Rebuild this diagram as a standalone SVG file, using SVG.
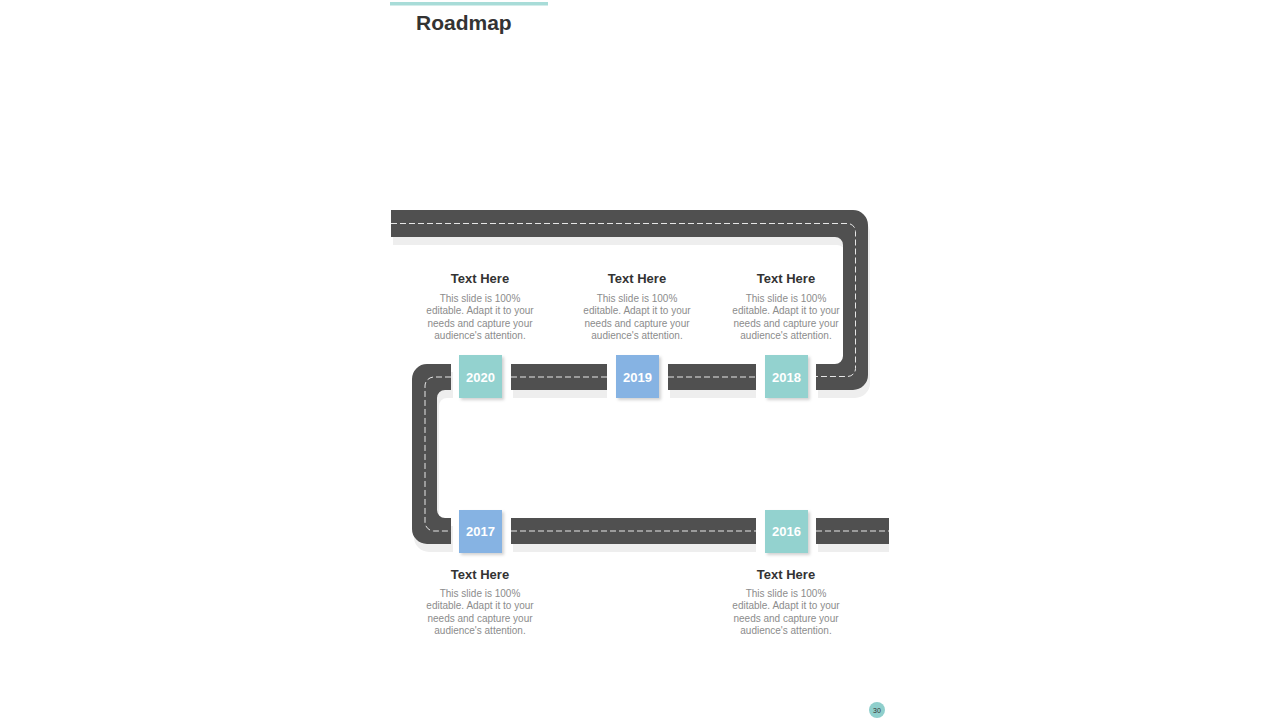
<svg xmlns="http://www.w3.org/2000/svg" width="1280" height="720" viewBox="0 0 1280 720">
  <style>
    .road{fill:#505050}
    .shadow{fill:#eeeeee}
    .dash{fill:none;stroke:#e6e6e6;stroke-width:1;stroke-dasharray:6 3}
    .teal{fill:#93d2cf}
    .blue{fill:#86b3e3}
    .year{font-family:"Liberation Sans",Arial,sans-serif;font-weight:bold;font-size:13px;fill:#ffffff;text-anchor:middle}
    .head{font-family:"Liberation Sans",Arial,sans-serif;font-weight:bold;font-size:13px;fill:#333333;text-anchor:middle}
    .body{font-family:"Liberation Sans",Arial,sans-serif;font-size:10px;fill:#8c8c8c;text-anchor:middle}
  </style>
  <defs>
    <filter id="ds" x="-20%" y="-20%" width="150%" height="150%">
      <feDropShadow dx="2" dy="2" stdDeviation="1.5" flood-color="#000000" flood-opacity="0.18"/>
    </filter>
    <path id="loopR" d="M391,210 H853 A15,15 0 0 1 868,225 V375 A15,15 0 0 1 853,390 H816 V364 H835 A8,8 0 0 0 843,356 V245 A8,8 0 0 0 835,237 H391 Z"/>
    <path id="loopL" d="M451,364 H427 A15,15 0 0 0 412,379 V529 A15,15 0 0 0 427,544 H451 V518 H445 A8,8 0 0 1 437,510 V398 A8,8 0 0 1 445,390 H451 Z"/>
  </defs>
  <rect width="1280" height="720" fill="#ffffff"/>

  <!-- title -->
  <rect x="390" y="2" width="158" height="3.5" fill="#a8dcd8"/>
  <text x="416" y="30" font-family="'Liberation Sans',Arial,sans-serif" font-weight="bold" font-size="21" fill="#333333">Roadmap</text>

  <!-- roads (connectors) -->
  <g id="roads">
    <use href="#loopR" class="shadow" transform="translate(2,8)"/>
    <use href="#loopL" class="shadow" transform="translate(2,8)"/>
    <rect class="shadow" x="513" y="372" width="94" height="26"/>
    <rect class="shadow" x="670" y="372" width="86" height="26"/>
    <rect class="shadow" x="513" y="526" width="243" height="26"/>
    <rect class="shadow" x="818" y="526" width="71" height="26"/>

    <use href="#loopR" class="road"/>
    <use href="#loopL" class="road"/>
    <rect class="road" x="511" y="364" width="96" height="26"/>
    <rect class="road" x="668" y="364" width="88" height="26"/>
    <rect class="road" x="511" y="518" width="245" height="26"/>
    <rect class="road" x="816" y="518" width="73" height="26"/>

    <path class="dash" d="M391,223.5 H847 A8,8 0 0 1 855.5,231.5 V368.5 A8,8 0 0 1 847.5,376.5 H816"/>
    <path class="dash" d="M451,377 H434 A9,9 0 0 0 425,386 V522 A9,9 0 0 0 434,531 H451"/>
    <path class="dash" d="M511,377 H607"/>
    <path class="dash" d="M668,377 H756"/>
    <path class="dash" d="M511,531 H756"/>
    <path class="dash" d="M816,531 H889"/>
  </g>

  <!-- milestones -->
  <g id="m2020">
    <rect class="teal" x="459" y="355" width="43" height="43" filter="url(#ds)"/>
    <text class="year" x="480.5" y="381.5">2020</text>
    <text class="head" x="480" y="283">Text Here</text>
    <text class="body" x="480" y="302">This slide is 100%</text>
    <text class="body" x="480" y="314.3">editable. Adapt it to your</text>
    <text class="body" x="480" y="326.6">needs and capture your</text>
    <text class="body" x="480" y="339">audience's attention.</text>
  </g>
  <g id="m2019">
    <rect class="blue" x="616" y="355" width="43" height="43" filter="url(#ds)"/>
    <text class="year" x="637.5" y="381.5">2019</text>
    <text class="head" x="637" y="283">Text Here</text>
    <text class="body" x="637" y="302">This slide is 100%</text>
    <text class="body" x="637" y="314.3">editable. Adapt it to your</text>
    <text class="body" x="637" y="326.6">needs and capture your</text>
    <text class="body" x="637" y="339">audience's attention.</text>
  </g>
  <g id="m2018">
    <rect class="teal" x="765" y="355" width="43" height="43" filter="url(#ds)"/>
    <text class="year" x="786.5" y="381.5">2018</text>
    <text class="head" x="786" y="283">Text Here</text>
    <text class="body" x="786" y="302">This slide is 100%</text>
    <text class="body" x="786" y="314.3">editable. Adapt it to your</text>
    <text class="body" x="786" y="326.6">needs and capture your</text>
    <text class="body" x="786" y="339">audience's attention.</text>
  </g>
  <g id="m2017">
    <rect class="blue" x="459" y="510" width="43" height="43" filter="url(#ds)"/>
    <text class="year" x="480.5" y="536">2017</text>
    <text class="head" x="480" y="579">Text Here</text>
    <text class="body" x="480" y="597">This slide is 100%</text>
    <text class="body" x="480" y="609.3">editable. Adapt it to your</text>
    <text class="body" x="480" y="621.6">needs and capture your</text>
    <text class="body" x="480" y="634">audience's attention.</text>
  </g>
  <g id="m2016">
    <rect class="teal" x="765" y="510" width="43" height="43" filter="url(#ds)"/>
    <text class="year" x="786.5" y="536">2016</text>
    <text class="head" x="786" y="579">Text Here</text>
    <text class="body" x="786" y="597">This slide is 100%</text>
    <text class="body" x="786" y="609.3">editable. Adapt it to your</text>
    <text class="body" x="786" y="621.6">needs and capture your</text>
    <text class="body" x="786" y="634">audience's attention.</text>
  </g>

  <!-- page number -->
  <g id="page">
    <circle cx="877" cy="710" r="8" fill="#8fcfcc"/>
    <text x="877" y="712.5" font-family="'Liberation Sans',Arial,sans-serif" font-size="7" fill="#333333" text-anchor="middle">30</text>
  </g>
</svg>
